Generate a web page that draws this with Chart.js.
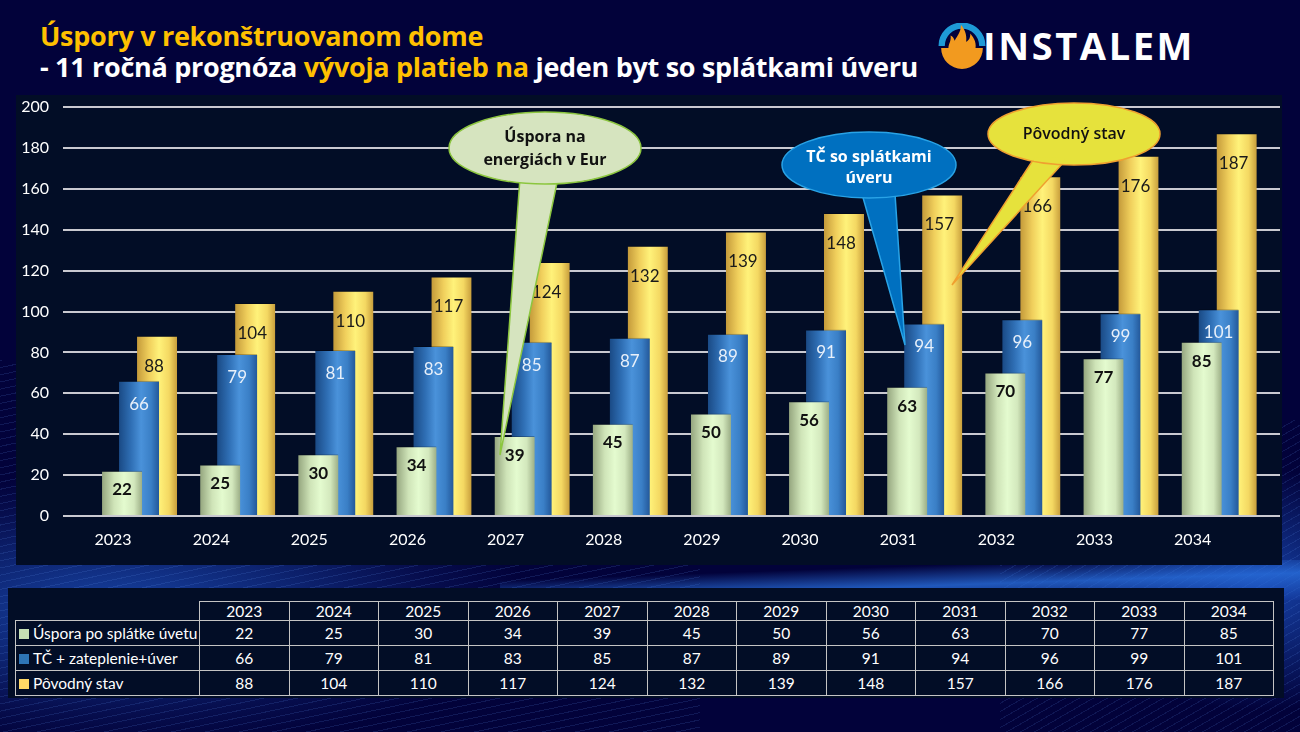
<!DOCTYPE html>
<html>
<head>
<meta charset="utf-8">
<script src="https://cdn.jsdelivr.net/npm/chart.js@4"></script>
<style>
  html, body { margin: 0; padding: 0; }
  body {
    width: 1300px; height: 732px; overflow: hidden; position: relative;
    background: #02023a;
    font-family: Lato, "Open Sans", sans-serif;
  }
  .swoosh-left {
    position: absolute; left: 0; top: 360px; width: 700px; height: 372px;
    background:
      repeating-linear-gradient(168deg, rgba(90,140,230,0.16) 0 1px, transparent 1px 7px),
      radial-gradient(ellipse 520px 170px at 120px 250px, rgba(30,90,200,0.75), rgba(20,50,140,0.25) 60%, transparent 80%);
  }
  .swoosh-right {
    position: absolute; right: 0; top: 420px; width: 300px; height: 312px;
    background:
      repeating-linear-gradient(150deg, rgba(90,140,230,0.15) 0 1px, transparent 1px 7px),
      radial-gradient(ellipse 260px 160px at 260px 170px, rgba(30,90,210,0.7), transparent 75%);
  }
  .swoosh-top {
    position: absolute; left: 500px; top: 560px; width: 800px; height: 40px;
    background: linear-gradient(178deg, transparent 0 30%, rgba(40,110,220,0.8) 60%, rgba(20,60,170,0.3) 100%);
  }
  .title {
    position: absolute; left: 40px; top: 20px;
    font-family: "Open Sans", sans-serif; font-weight: 700; font-size: 27px;
    line-height: 31px; color: #ffffff; letter-spacing: -0.3px;
  }
  .title .y { color: #ffc000; }
  .logo { position: absolute; left: 938px; top: 23px; height: 48px; }
  .logo svg { position: absolute; left: 0; top: 0; }
  .logo span {
    position: absolute; left: 45px; top: -4px;
    font-family: "Open Sans", sans-serif; font-weight: 700; font-size: 38px;
    color: #fff; letter-spacing: 2.6px;
  }
  .panel {
    position: absolute; left: 16px; top: 95px; width: 1266px; height: 470px;
    background: #020d26;
  }
  .tablepanel {
    position: absolute; left: 8px; top: 588px; width: 1276px; height: 110px;
    background: #020d26;
  }
  table {
    position: absolute; left: 7px; top: 13px;
    border-collapse: collapse; color: #fff;
    font-family: Lato, sans-serif; font-size: 15.5px;
  }
  td { border: 1.5px solid #c4c4c4; height: 24px; padding: 0; text-align: center; width: 88.5px; }
  td.lab { text-align: left; width: 180px; padding-left: 3px; white-space: nowrap; }
  td.blank { border: none; border-bottom: 1.5px solid #c4c4c4; }
  tr.head td { height: 18px; }
  .sq { display: inline-block; width: 10px; height: 10px; margin-right: 4px; vertical-align: 0px; }
  .bubbles { position: absolute; left: 0; top: 0; pointer-events: none; }
</style>
</head>
<body>
<div class="swoosh-left"></div>
<div class="swoosh-right"></div>
<div class="swoosh-top"></div>

<div class="title">
  <div class="y">Úspory v rekonštruovanom dome</div>
  <div>- 11 ročná prognóza <span class="y">vývoja platieb na</span> jeden byt so splátkami úveru</div>
</div>

<div class="logo">
  <svg width="48" height="48" viewBox="0 0 46 46">
    <path d="M3.5 22 A19.5 19.5 0 0 1 42.5 22" fill="none" stroke="#1e9ad6" stroke-width="6"/>
    <path d="M3 24 A20 20 0 0 0 43 24 L36 24 C37 17 33 13 31 10 C31 15 29 17 27 18 C28 11 25 5 22 2 C22 9 18 13 16 17 C15 14 14 13 12 12 C13 17 10 20 10 24 Z" fill="#f29a1f"/>
  </svg>
  <span>INSTALEM</span>
</div>

<div class="panel"><canvas id="chart" width="1266" height="470"></canvas></div>

<div class="tablepanel"><table id="tbl"></table></div>

<svg class="bubbles" width="1300" height="732">
  <!-- Úspora na energiách -->
  <path d="M520 178 L500 455 L558 178 Z" fill="#d6e4bf" stroke="#8cc63f" stroke-width="1.5"/>
  <ellipse cx="545" cy="148" rx="96" ry="36" fill="#d6e4bf" stroke="#8cc63f" stroke-width="1.5"/>
  <path d="M521 176 L559 176" stroke="#d6e4bf" stroke-width="4"/>
  <text x="545" y="142" text-anchor="middle" font-family="Open Sans" font-weight="700" font-size="16" fill="#111">Úspora na</text>
  <text x="545" y="165" text-anchor="middle" font-family="Open Sans" font-weight="700" font-size="16" fill="#111">energiách v Eur</text>

  <!-- TČ so splátkami úveru -->
  <path d="M862 194 L905 345 L895 194 Z" fill="#0070c0" stroke="#29a3e6" stroke-width="1.5"/>
  <ellipse cx="869" cy="165" rx="87" ry="33" fill="#0070c0" stroke="#29a3e6" stroke-width="1.5"/>
  <path d="M863 193 L896 193" stroke="#0070c0" stroke-width="4"/>
  <text x="869" y="162" text-anchor="middle" font-family="Open Sans" font-weight="700" font-size="16" fill="#fff">TČ so splátkami</text>
  <text x="869" y="183" text-anchor="middle" font-family="Open Sans" font-weight="700" font-size="16" fill="#fff">úveru</text>

  <!-- Pôvodný stav -->
  <path d="M1033 160 L952 285 L1064 162 Z" fill="#e6e23c" stroke="#f0a030" stroke-width="1.5"/>
  <ellipse cx="1074" cy="134" rx="86" ry="31" fill="#e6e23c" stroke="#f0a030" stroke-width="1.5"/>
  <path d="M1034 159 L1064 160" stroke="#e6e23c" stroke-width="4"/>
  <text x="1074" y="139" text-anchor="middle" font-family="Open Sans" font-weight="600" font-size="16" fill="#111">Pôvodný stav</text>
</svg>

<script>
// data
var years = [2023, 2024, 2025, 2026, 2027, 2028, 2029, 2030, 2031, 2032, 2033, 2034];
var usporaPoSplatke = [22, 25, 30, 34, 39, 45, 50, 56, 63, 70, 77, 85];
var tcZateplenieUver = [66, 79, 81, 83, 85, 87, 89, 91, 94, 96, 99, 101];
var povodnyStav = [88, 104, 110, 117, 124, 132, 139, 148, 157, 166, 176, 187];
var seriesNames = ['Úspora po splátke úvetu', 'TČ + zateplenie+úver', 'Pôvodný stav'];
var yTicks = [0, 20, 40, 60, 80, 100, 120, 140, 160, 180, 200];

// styling per series (green in front, yellow behind)
var BAR_SHIFT = [9, 26, 44];
var GRADIENTS = [
    ['#95a67f', '#cfe4b8', '#e4fbcf', '#d3e8bd', '#9cae86'],
    ['#1a4a85', '#2f6fb5', '#4a92da', '#3a7fc6', '#23589a'],
    ['#c49a3a', '#f0cf5c', '#fff27a', '#f4d862', '#c89e3c']
];
var LABEL_COLOR = ['#111111', '#e8f0fa', '#1a1a1a'];
var LABEL_FONT = ['bold 17px Lato', '17px Lato', '17px Lato'];
var LABEL_DROP = [19, 23, 30];
var LEGEND_COLOR = ['#c6e0b4', '#2e75b6', '#ffd966'];

function barGradient(di) {
    return function (ctx) {
        var chart = ctx.chart;
        if (!chart.chartArea || ctx.dataIndex === undefined) return GRADIENTS[di][2];
        var cx = chart.scales.x.getPixelForValue(years[ctx.dataIndex]) + BAR_SHIFT[di];
        var g = chart.ctx.createLinearGradient(cx - 20, 0, cx + 20, 0);
        var c = GRADIENTS[di];
        g.addColorStop(0, c[0]);
        g.addColorStop(0.3, c[1]);
        g.addColorStop(0.55, c[2]);
        g.addColorStop(0.8, c[3]);
        g.addColorStop(1, c[4]);
        return g;
    };
}

var shiftBars = {
    id: 'shiftBars',
    afterDatasetsUpdate: function (chart) {
        chart.data.datasets.forEach(function (ds, di) {
            chart.getDatasetMeta(di).data.forEach(function (el) { el.x += BAR_SHIFT[di]; });
        });
    }
};

var barLabels = {
    id: 'barLabels',
    afterDatasetsDraw: function (chart) {
        var ctx = chart.ctx;
        ctx.save();
        ctx.textAlign = 'center';
        ctx.textBaseline = 'middle';
        for (var di = chart.data.datasets.length - 1; di >= 0; di--) {
            var ds = chart.data.datasets[di];
            ctx.fillStyle = LABEL_COLOR[di];
            ctx.font = LABEL_FONT[di];
            chart.getDatasetMeta(di).data.forEach(function (el, i) {
                var dx = di === 2 ? -3 : 0;
                ctx.fillText(String(ds.data[i]), el.x + dx, el.y + LABEL_DROP[di]);
            });
        }
        ctx.restore();
    }
};

var chart = new Chart(document.getElementById('chart'), {
    type: 'bar',
    data: {
        labels: years,
        datasets: [
            { label: seriesNames[0], data: usporaPoSplatke, backgroundColor: barGradient(0), borderColor: 'rgba(0,0,0,0.25)', borderWidth: { top: 1 } },
            { label: seriesNames[1], data: tcZateplenieUver, backgroundColor: barGradient(1), borderColor: 'rgba(0,0,0,0.25)', borderWidth: { top: 1 } },
            { label: seriesNames[2], data: povodnyStav, backgroundColor: barGradient(2), borderColor: 'rgba(0,0,0,0.25)', borderWidth: { top: 1 } }
        ]
    },
    options: {
        responsive: false,
        animation: false,
        events: [],
        grouped: false,
        barThickness: 40,
        layout: { padding: { top: 12, right: 2, left: 0, bottom: 0 }, autoPadding: false },
        plugins: { legend: { display: false }, tooltip: { enabled: false } },
        datasets: { bar: { clip: false } },
        scales: {
            x: {
                type: 'linear',
                offset: false,
                min: 2022.49,
                max: 2034.89,
                grid: { display: false },
                border: { display: false },
                afterBuildTicks: function (scale) {
                    scale.ticks = years.map(function (v) { return { value: v }; });
                },
                afterFit: function (scale) { scale.height = 49; scale.paddingLeft = 0; scale.paddingRight = 0; },
                ticks: {
                    autoSkip: false,
                    maxRotation: 0,
                    color: '#ffffff',
                    font: { family: 'Lato', size: 16 },
                    padding: 6,
                    callback: function (v) { return String(v); }
                }
            },
            y: {
                min: 0,
                max: 200,
                afterBuildTicks: function (scale) {
                    scale.ticks = yTicks.map(function (v) { return { value: v }; });
                },
                afterFit: function (scale) { scale.width = 47; scale.paddingTop = 0; scale.paddingBottom = 0; },
                grid: { color: '#c9c9d0', lineWidth: 2, drawTicks: false },
                border: { display: false },
                ticks: {
                    color: '#ffffff',
                    font: { family: 'Lato', size: 16 },
                    padding: 14
                }
            }
        }
    },
    plugins: [shiftBars, barLabels]
});

// data table under the chart
var tbl = document.getElementById('tbl');
var html = '<tr class="head"><td class="blank"></td>' + years.map(function (y) { return '<td>' + y + '</td>'; }).join('') + '</tr>';
[usporaPoSplatke, tcZateplenieUver, povodnyStav].forEach(function (row, i) {
    html += '<tr><td class="lab"><span class="sq" style="background:' + LEGEND_COLOR[i] + '"></span>' + seriesNames[i] + '</td>' +
        row.map(function (v) { return '<td>' + v + '</td>'; }).join('') + '</tr>';
});
tbl.innerHTML = html;
</script>
</body>
</html>
